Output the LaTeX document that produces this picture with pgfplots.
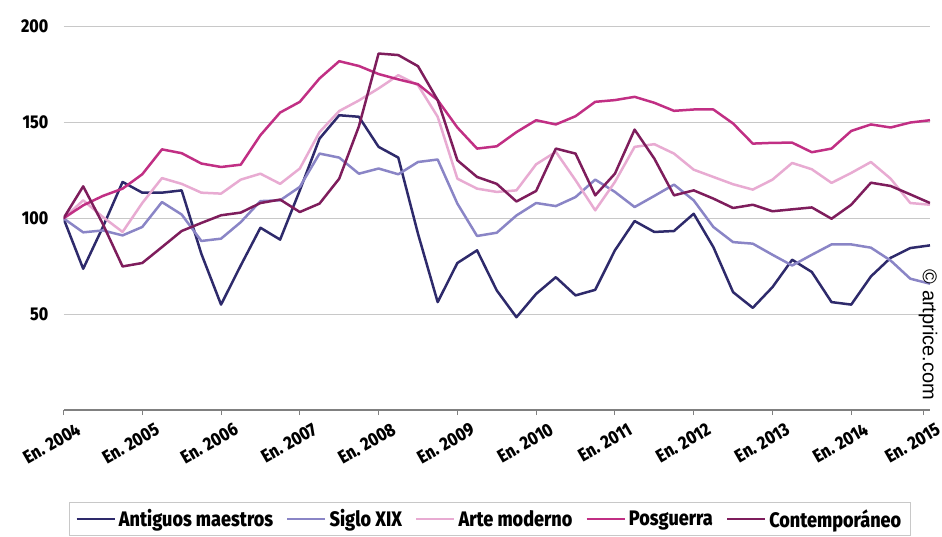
\documentclass[border=0pt]{standalone}
\usepackage{fontspec}
\setmainfont{Fira Sans}[FakeStretch=0.86, BoldFont={Fira Sans ExtraBold}]
\newfontfamily\arialfont{Liberation Sans}
\usepackage{pgfplots}
\usepackage{pgfplotstable}
\pgfplotsset{compat=1.18}
\definecolor{cA}{HTML}{2E2A6B}
\definecolor{cS}{HTML}{8A85C6}
\definecolor{cM}{HTML}{E8ABD2}
\definecolor{cP}{HTML}{C12F84}
\definecolor{cC}{HTML}{7E1D5C}
\definecolor{gridc}{HTML}{C8C8C8}
\pgfplotstableread{
i A S M P C
0 100 100 100 100 100
1 73.7 92.7 109.4 106.8 116.7
2 95.5 93.7 100.7 111.7 97
3 119 91.1 92.9 115.5 74.9
4 113.4 95.5 108 123 76.7
5 113.4 108.5 121 136 85
6 114.6 102 118 134 93.4
7 81.5 88.2 113.4 128.6 97.6
8 55 89.4 112.9 126.8 101.6
9 75.4 98 120.2 128 103
10 95.1 109 123.3 143.4 108
11 88.9 109.4 118 155.2 109.8
12 114.6 116.4 126 160.8 103.3
13 141.6 133.8 145 173 107.7
14 153.8 131.7 156 182 120.7
15 153 123.3 161.5 179.5 148
16 137.3 126 167.8 175.3 186
17 131.7 123 174.7 172.5 185.2
18 92 129.4 169.5 170 179.4
19 56.3 130.7 153 161.7 161.7
20 76.7 107.7 120.7 147.4 130.3
21 83.3 90.8 115.5 136.4 121.6
22 62.4 92.5 113.8 137.6 118
23 48.4 101.5 114.6 145 108.8
24 60.6 108 128.2 151.2 114.3
25 69.3 106.4 134.7 149 136.4
26 59.8 111.1 119.9 153.3 133.8
27 62.7 120.2 104.2 160.8 112
28 83.3 113.8 119 161.7 123.3
29 98.6 105.9 137.3 163.4 146.3
30 92.9 111.7 138.7 160.3 131.2
31 93.4 117.6 133.8 156.1 112
32 102.4 109.4 125.4 156.8 114.6
33 85 95.5 121.6 156.8 110.3
34 61.5 87.6 117.8 149.5 105.4
35 53.3 86.8 115 139 107.1
36 64.1 81 120.2 139.4 103.7
37 78.4 75.4 128.9 139.5 104.7
38 72 81 125.6 134.5 105.7
39 56.3 86.4 118.5 136.4 99.8
40 55 86.4 123.7 145.6 107.1
41 69.7 84.7 129.4 149 118.6
42 79.4 78 120.7 147.4 116.9
43 84.5 68.5 108 150 112.5
44 85.9 65.9 107.1 151.2 108
}\datatable
\begin{document}
\begin{tikzpicture}[x=1pt,y=1pt]
\begin{axis}[
  at={(63.5pt,126pt)}, anchor=south west,
  scale only axis, width=866.5pt, height=383.3pt,
  xmin=0, xmax=44, ymin=0, ymax=200,
  axis x line=bottom, axis y line=left,
  axis line style={-},
  y axis line style={draw=none},
  x axis line style={draw=gray, line width=1.3pt},
  ymajorgrids, grid style={gridc, line width=1.3pt},
  ytick={50,100,150,200},
  xtick={0,4,8,12,16,20,24,28,32,36,40,43.65},
  xticklabels={En. 2004,En. 2005,En. 2006,En. 2007,En. 2008,En. 2009,En. 2010,En. 2011,En. 2012,En. 2013,En. 2014,En. 2015},
  tick align=outside, major tick length=5pt,
  xtick style={draw=gray, line width=1pt},
  ytick style={draw=none},
  /pgf/number format/assume math mode=true,
  yticklabel style={font=\fontsize{18.5}{18.5}\selectfont\bfseries, inner sep=0pt, xshift=-10pt},
  xticklabel style={font=\fontsize{18.5}{18.5}\selectfont\bfseries, inner sep=0pt, xshift=12pt, yshift=-7pt, rotate=30, anchor=north east},
  legend columns=5,
  legend style={at={(0.492,-0.24)}, anchor=north, draw=gridc, line width=0.8pt,
    font=\fontsize{21}{21}\selectfont\bfseries, inner xsep=6pt, inner ysep=5pt,
    nodes={inner xsep=3pt},
    /tikz/every even column/.append style={column sep=10pt}},
  legend image code/.code={\draw[#1, line width=2.5pt] (0pt,0pt) -- (38pt,0pt);},
  every axis plot/.append style={line width=2.5pt, line join=round},
]
\addplot[cA] table[x=i,y=A]{\datatable};
\addlegendentry{Antiguos maestros}
\addplot[cS] table[x=i,y=S]{\datatable};
\addlegendentry{Siglo XIX}
\addplot[cM] table[x=i,y=M]{\datatable};
\addlegendentry{Arte moderno}
\addplot[cP] table[x=i,y=P]{\datatable};
\addlegendentry{Posguerra}
\addplot[cC] table[x=i,y=C]{\datatable};
\addlegendentry{Contemporáneo}
\end{axis}
\node[rotate=-90, font=\arialfont\fontsize{20}{20}\selectfont] at (928pt,201pt) {© artprice.com};
\pgfresetboundingbox
\path (0pt,0pt) rectangle (942pt,536pt);
\end{tikzpicture}
\end{document}
